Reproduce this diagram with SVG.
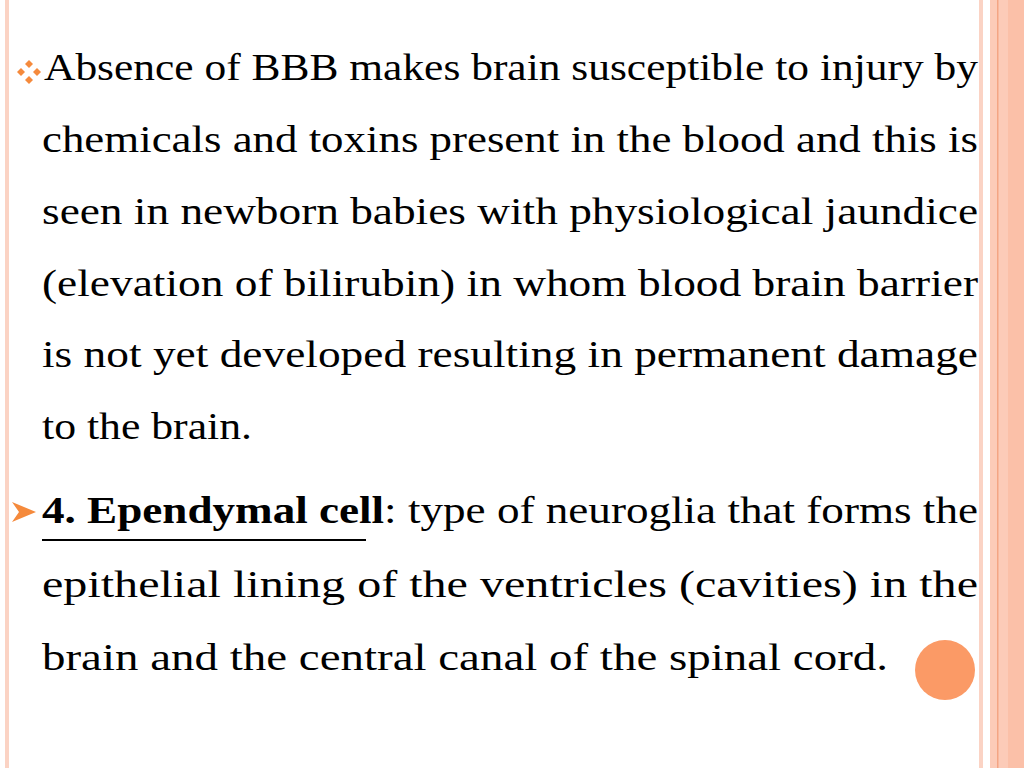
<svg xmlns="http://www.w3.org/2000/svg" width="1024" height="768" viewBox="0 0 1024 768">
<style>
text{font-family:"Liberation Serif","Times New Roman","DejaVu Serif",serif;font-size:37px;fill:#000}
.b{font-weight:bold}
</style>
<rect width="1024" height="768" fill="#fff"/>
<rect x="5" y="0" width="4" height="768" fill="#fbd3c4"/>
<rect x="979" y="0" width="4" height="768" fill="#fbd3c4"/>
<rect x="990" y="0" width="34" height="768" fill="#fccbb8"/>
<rect x="997" y="0" width="1.5" height="768" fill="#f4a584"/>
<rect x="1008" y="0" width="16" height="768" fill="#fbc0a8"/>
<g fill="#f58a3c">
<path d="M17 72 L21 68 L25 72 L21 76 Z"/>
<path d="M25 64 L29 60 L33 64 L29 68 Z"/>
<path d="M33 72 L37 68 L41 72 L37 76 Z"/>
<path d="M25 80 L29 76 L33 80 L29 84 Z"/>
<path d="M12 502 L36 512 L12 522 L19 512 Z"/>
</g>
<text x="44" y="80" textLength="934" lengthAdjust="spacingAndGlyphs">Absence of BBB makes brain susceptible to injury by</text>
<text x="42" y="152" textLength="936" lengthAdjust="spacingAndGlyphs">chemicals and toxins present in the blood and this is</text>
<text x="42" y="224" textLength="936" lengthAdjust="spacingAndGlyphs">seen in newborn babies with physiological jaundice</text>
<text x="42" y="296" textLength="936" lengthAdjust="spacingAndGlyphs">(elevation of bilirubin) in whom blood brain barrier</text>
<text x="42" y="367" textLength="936" lengthAdjust="spacingAndGlyphs">is not yet developed resulting in permanent damage</text>
<text x="42" y="439" textLength="210" lengthAdjust="spacingAndGlyphs">to the brain.</text>
<text x="42" y="523" textLength="936" lengthAdjust="spacingAndGlyphs"><tspan class="b">4. Ependymal cell</tspan>: type of neuroglia that forms the</text>
<rect x="42" y="539" width="324" height="2" fill="#000"/>
<text x="42" y="597" textLength="936" lengthAdjust="spacingAndGlyphs">epithelial lining of the ventricles (cavities) in the</text>
<text x="42" y="670" textLength="846" lengthAdjust="spacingAndGlyphs">brain and the central canal of the spinal cord.</text>
<circle cx="945" cy="670" r="30" fill="#fb9a66"/>
</svg>
